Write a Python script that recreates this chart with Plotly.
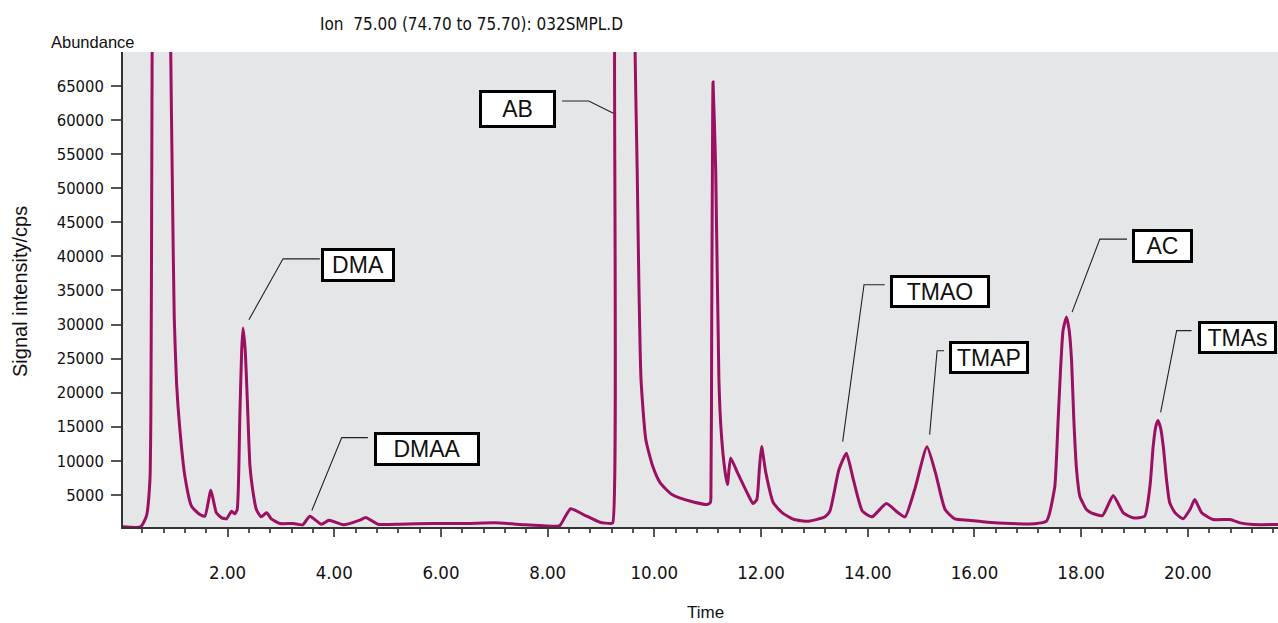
import plotly.graph_objects as go

# ---- chromatogram trace (time in min, abundance in cps) ----
time = [0.04, 0.37, 0.48, 0.545, 0.562, 0.575, 0.587, 0.76, 0.932, 0.969, 1.00, 1.044, 1.106,
        1.20, 1.325, 1.48, 1.575, 1.687, 1.79, 1.89, 1.98, 2.075, 2.137, 2.18, 2.23, 2.265,
        2.29, 2.33, 2.37, 2.42, 2.47, 2.54, 2.63, 2.73, 2.82, 2.98, 3.23, 3.41, 3.54, 3.76,
        3.90, 4.17, 4.48, 4.59, 4.82, 5.23, 5.85, 6.48, 7.01, 7.60, 8.16, 8.23, 8.43, 8.67,
        8.98, 9.18, 9.22, 9.255, 9.45, 9.635, 9.678, 9.71, 9.75, 9.84, 9.97, 10.11, 10.33,
        10.68, 10.99, 11.05, 11.06, 11.075, 11.088, 11.10, 11.15, 11.21, 11.25, 11.32, 11.37,
        11.43, 11.56, 11.74, 11.85, 11.92, 11.97, 12.01, 12.09, 12.23, 12.40, 12.62, 12.89,
        13.20, 13.29, 13.46, 13.60, 13.73, 13.90, 14.08, 14.35, 14.57, 14.70, 14.88, 15.11,
        15.27, 15.45, 15.63, 15.89, 16.24, 16.69, 17.13, 17.35, 17.41, 17.507, 17.569, 17.614,
        17.662, 17.726, 17.775, 17.82, 17.863, 17.914, 17.976, 18.10, 18.19, 18.40, 18.60,
        18.79, 18.97, 19.19, 19.29, 19.35, 19.40, 19.44, 19.49, 19.54, 19.60, 19.66, 19.76,
        19.91, 20.04, 20.13, 20.26, 20.47, 20.79, 20.98, 21.22, 21.69]
abundance = [300, 300, 1900, 7200, 16500, 41000, 72000, 300000, 72000, 48300, 31200, 21400, 14600,
             7730, 3330, 2110, 1860, 5670, 2360, 1630, 1480, 2600, 2210, 2840, 16500, 26300,
             29500, 26300, 19000, 9200, 5780, 2840, 1770, 2360, 1480, 790, 790, 600, 1860, 690,
             1280, 600, 1280, 1670, 690, 690, 790, 790, 890, 600, 400, 500, 2950, 2110,
             980, 790, 890, 72000, 300000, 72000, 52700, 36000, 21900, 13100, 9200, 6760, 5040,
             4060, 3580, 3870, 4500, 30000, 52700, 65600, 52700, 21900, 14600, 8710, 6510,
             10400, 8220, 5290, 3720, 4310, 9000, 12100, 8220, 3830, 2360, 1380, 1130,
             1770, 2600, 8710, 11100, 7240, 2600, 1770, 3720, 2360, 1770, 5780, 12050,
             8220, 2840, 1480, 1280, 980, 790, 750, 1130, 2360, 6260, 16000, 23400,
             29200, 31100, 29200, 24800, 16000, 8700, 4800, 2840, 2360, 1960, 4900,
             2360, 1630, 1860, 6260, 12100, 15050, 15900, 14800, 12100, 7240, 3830, 2360,
             1480, 2840, 4310, 2360, 1380, 1380, 890, 640, 640]

# ---- peak labels ----
labels = ["AB", "DMA", "DMAA", "TMAO", "TMAP", "AC", "TMAs"]
label_t = [7.436, 4.448, 5.736, 15.36, 16.28, 19.53, 20.94]
label_a = [61600, 38710, 11790, 34800, 25200, 41550, 28130]
label_w = [77, 74, 106, 100, 80, 61, 79]
label_h = [38, 34, 34, 33, 33, 34, 33]
# leader polylines: box edge -> elbow -> peak
leader_t = [[8.27, 8.77, 9.26], [3.73, 3.04, 2.40], [4.63, 4.14, 3.58], [14.32, 13.93, 13.53],
            [15.43, 15.30, 15.16], [18.86, 18.35, 17.83], [20.07, 19.79, 19.49]]
leader_a = [[62800, 62800, 60900], [39640, 39640, 30690], [13400, 13400, 2700], [35830, 35830, 12810],
            [26160, 26160, 13840], [42530, 42530, 31820], [29110, 29110, 17100]]

x_ticks = [2, 4, 6, 8, 10, 12, 14, 16, 18, 20]
y_ticks = [5000, 10000, 15000, 20000, 25000, 30000, 35000, 40000, 45000, 50000, 55000, 60000, 65000]

COND = "Liberation Sans Narrow, DejaVu Sans Condensed, Arial Narrow, sans-serif"
REG = "Liberation Sans, Arial, sans-serif"

fig = go.Figure()
for lt, la in zip(leader_t, leader_a):
    fig.add_trace(go.Scatter(x=lt, y=la, mode="lines", line=dict(color="#222222", width=1.1),
                             hoverinfo="skip", showlegend=False))
fig.add_trace(go.Scatter(x=time, y=abundance, mode="lines",
                         line=dict(color="#9c1061", width=3, shape="spline", smoothing=0.5),
                         showlegend=False))

for txt, t, a, w, h in zip(labels, label_t, label_a, label_w, label_h):
    fig.add_annotation(x=t, y=a, xref="x", yref="y", text=txt, showarrow=False,
                       xanchor="center", yanchor="middle",
                       width=w - 6, height=h - 6, borderpad=0, borderwidth=3,
                       bordercolor="#000000", bgcolor="#ffffff",
                       font=dict(family=REG, size=23, color="#111111"))

fig.add_annotation(x=0.1688, y=1.0589, xref="paper", yref="paper", xanchor="left", yanchor="middle",
                   text="Ion\u00a0 75.00 (74.70 to 75.70): 032SMPL.D", showarrow=False,
                   font=dict(family=COND, size=17, color="#111111"))
fig.add_annotation(x=-0.0641, y=1.0211, xref="paper", yref="paper", xanchor="left", yanchor="middle",
                   text="Abundance", showarrow=False,
                   font=dict(family=REG, size=16.5, color="#111111"))
fig.add_annotation(x=-0.0892, y=0.4968, xref="paper", yref="paper", xanchor="center", yanchor="middle",
                   text="Signal intensity/cps", textangle=-90, showarrow=False,
                   font=dict(family=REG, size=20, color="#111111"))
fig.add_annotation(x=0.5039, y=-0.181, xref="paper", yref="paper", xanchor="center", yanchor="middle",
                   text="Time", showarrow=False,
                   font=dict(family=REG, size=17, color="#111111"))

fig.update_layout(
    width=1278, height=623,
    margin=dict(l=123, r=0, t=52, b=96),
    paper_bgcolor="#ffffff", plot_bgcolor="#e5e6e8",
    xaxis=dict(range=[0.04, 21.69], tickvals=x_ticks, ticktext=[f"{v:.2f}" for v in x_ticks],
               showgrid=False, zeroline=False, showline=True, linecolor="#333333", linewidth=1.5,
               ticks="outside", ticklen=8, tickwidth=1.5, tickcolor="#555555",
               ticklabelstandoff=20,
               tickfont=dict(family=COND, size=18.5, color="#111111"),
               minor=dict(tickmode="linear", tick0=0, dtick=0.4, ticks="outside", ticklen=4,
                          tickwidth=1.5, tickcolor="#555555", showgrid=False)),
    yaxis=dict(range=[280, 70000], tickvals=y_ticks, ticktext=[str(v) for v in y_ticks],
               showgrid=False, zeroline=False, showline=True, linecolor="#333333", linewidth=1.5,
               ticks="outside", ticklen=10, tickwidth=1.5, tickcolor="#555555",
               ticklabelstandoff=4,
               tickfont=dict(family=COND, size=16.5, color="#111111")),
)

fig.write_html("out.html")
